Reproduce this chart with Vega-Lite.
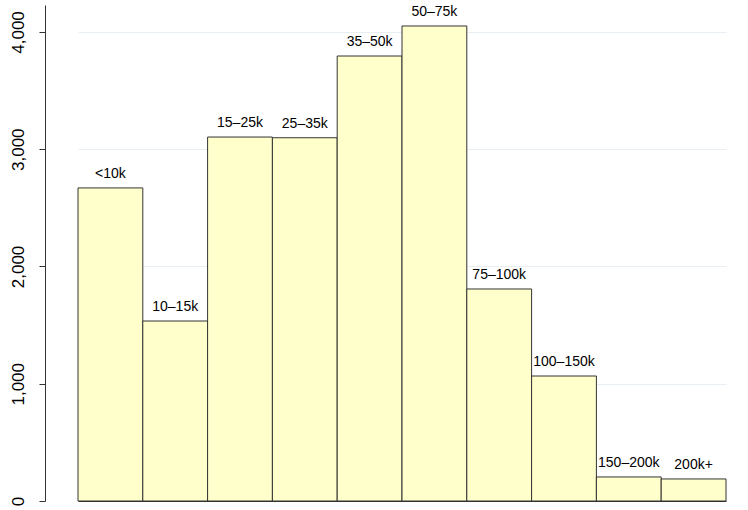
{
  "$schema": "https://vega.github.io/schema/vega-lite/v6.json",
  "width": 703,
  "height": 496,
  "autosize": {"type": "none"},
  "padding": {"left": 45, "top": 5, "right": 0, "bottom": 9},
  "background": "white",
  "config": {"view": {"stroke": null}, "font": "Liberation Sans"},
  "data": {"values": [
    {"income": "<10k", "count": 2670},
    {"income": "10–15k", "count": 1535},
    {"income": "15–25k", "count": 3104},
    {"income": "25–35k", "count": 3098},
    {"income": "35–50k", "count": 3795},
    {"income": "50–75k", "count": 4051},
    {"income": "75–100k", "count": 1808},
    {"income": "100–150k", "count": 1066},
    {"income": "150–200k", "count": 205},
    {"income": "200k+", "count": 188}
  ]},
  "encoding": {
    "x": {"field": "income", "type": "nominal", "sort": null,
      "scale": {"range": [33, 681], "paddingInner": 0, "paddingOuter": 0},
      "axis": {"title": null, "labels": false, "ticks": false, "domainColor": "#333333", "domainWidth": 1}},
    "y": {"field": "count", "type": "quantitative",
      "scale": {"domain": [0, 4230], "nice": false, "zero": true},
      "axis": {"title": null, "values": [0, 1000, 2000, 3000, 4000], "format": ",.0f",
        "labelAngle": -90, "labelFontSize": 17, "labelColor": "#000000", "labelPadding": 12,
        "labelBaseline": "bottom", "labelAlign": "center",
        "tickSize": 6, "tickColor": "#333333", "domainColor": "#333333",
        "grid": true, "gridColor": "#e8eff4", "gridWidth": 1}}
  },
  "layer": [
    {"mark": {"type": "bar", "fill": "#ffffcc", "stroke": "#333333", "strokeWidth": 1}},
    {"mark": {"type": "text", "baseline": "alphabetic", "dy": -10, "fontSize": 14, "color": "#000000"},
     "encoding": {"text": {"field": "income"}}}
  ]
}
